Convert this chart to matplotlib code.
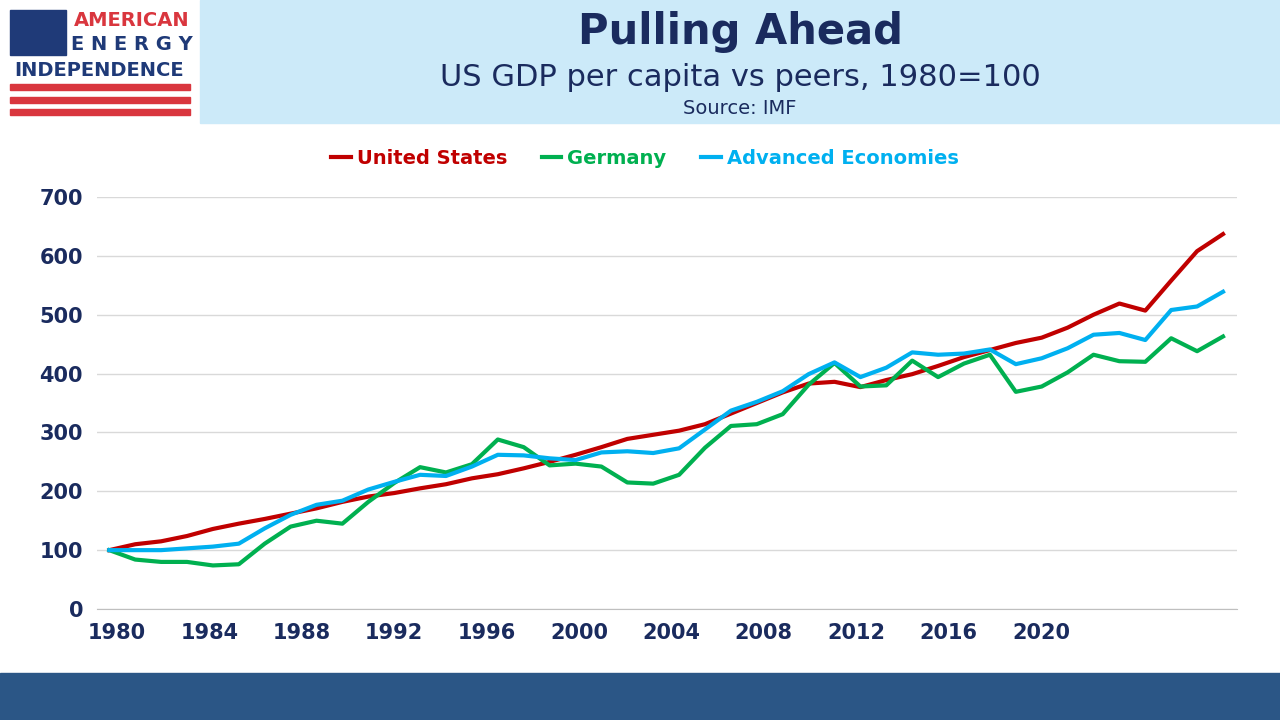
import matplotlib.pyplot as plt
from matplotlib.patches import Rectangle

years = list(range(1980, 2024))
us = [100, 110, 115, 124, 136, 145, 153, 162, 171, 182, 191, 197, 205, 212, 222, 229, 239, 250, 262, 275,
      289, 296, 303, 314, 332, 350, 368, 383, 386, 377, 389, 399, 413, 428, 440, 452, 461, 478, 500, 519,
      507, 558, 608, 637]
germany = [100, 84, 80, 80, 74, 76, 111, 140, 150, 145, 182, 214, 241, 232, 246, 288, 275, 244, 247, 242,
           215, 213, 228, 274, 311, 314, 331, 381, 418, 378, 380, 422, 394, 417, 432, 369, 378, 402, 432, 421,
           420, 460, 438, 463]
advanced = [100, 100, 100, 103, 106, 111, 137, 160, 177, 184, 203, 216, 228, 226, 242, 262, 261, 256, 253, 266,
            268, 265, 273, 305, 337, 352, 370, 399, 419, 394, 410, 436, 432, 434, 441, 416, 426, 443, 466, 469,
            457, 508, 514, 539]
tick_labels = [str(y) for y in range(1980, 2021, 4)]

navy = '#1a2b5e'
fig = plt.figure(figsize=(12.8, 7.2), dpi=100)

def px(x, y, w, h, c):
    fig.patches.append(Rectangle((x/1280, 1-(y+h)/720), w/1280, h/720, transform=fig.transFigure,
                                 color=c, zorder=0))

# header band and footer
px(200, 0, 1080, 123, '#cceaf9')
px(0, 673, 1280, 47, '#2b5686')

# logo
px(10, 10, 56, 45, '#1f3a78')
for y in [84, 97, 109]:
    px(10, y, 180, 6, '#d9363e')
fig.text(132/1280, 1-20/720, 'AMERICAN', ha='center', va='center', fontsize=14, color='#d9363e', weight='bold')
fig.text(132/1280, 1-45/720, 'E N E R G Y', ha='center', va='center', fontsize=14, color='#1f3a78', weight='bold')
fig.text(99/1280, 1-70/720, 'INDEPENDENCE', ha='center', va='center', fontsize=14, color='#1f3a78', weight='bold')

fig.text(740/1280, 1-32/720, 'Pulling Ahead', ha='center', va='center', fontsize=30, weight='bold', color=navy)
fig.text(740/1280, 1-77/720, 'US GDP per capita vs peers, 1980=100', ha='center', va='center', fontsize=22,
         color=navy)
fig.text(740/1280, 1-108/720, 'Source: IMF', ha='center', va='center', fontsize=14, color=navy)

ax = fig.add_axes([97/1280, 1-609/720, (1237-97)/1280, (609-197)/720])
ax.plot(years, us, color='#c00000', lw=3, label='United States')
ax.plot(years, germany, color='#00b050', lw=3, label='Germany')
ax.plot(years, advanced, color='#00b0f0', lw=3, label='Advanced Economies')
ax.set_ylim(0, 700)
step = 25.9  # pixels per year
left = 1980 - 12.3/step
ax.set_xlim(left, left + 1140/step)
# category labels sit where the original chart put them
ax.set_xticks([left + (20 + 92.4*k)/step for k in range(len(tick_labels))])
ax.set_xticklabels(tick_labels)
ax.set_yticks(range(0, 701, 100))
ax.grid(axis='y', color='#d9d9d9', lw=1)
ax.set_axisbelow(True)
for s in ['top', 'right', 'left']:
    ax.spines[s].set_visible(False)
ax.spines['bottom'].set_color('#bfbfbf')
ax.tick_params(length=0, labelsize=15, colors=navy, pad=10)
for t in ax.get_xticklabels() + ax.get_yticklabels():
    t.set_fontweight('bold')
leg = ax.legend(loc='center', ncol=3, frameon=False, fontsize=14,
                handlelength=1.0, handletextpad=0.3, columnspacing=1.8)
for t, c in zip(leg.get_texts(), ['#c00000', '#00b050', '#00b0f0']):
    t.set_color(c)
    t.set_fontweight('bold')
leg.set_bbox_to_anchor((645/1280, 1-158/720), transform=fig.transFigure)

fig.savefig('out.png', dpi=100)
